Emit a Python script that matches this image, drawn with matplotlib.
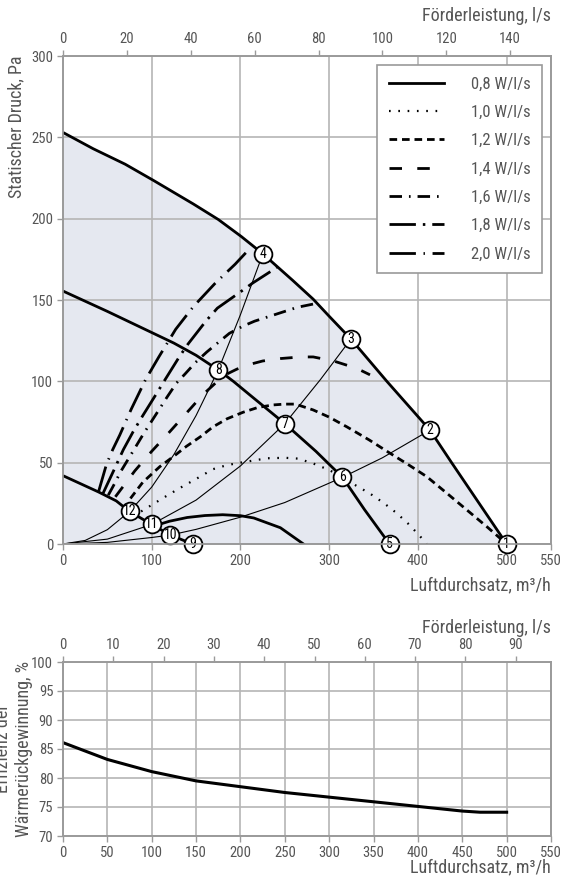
import numpy as np
import matplotlib.pyplot as plt

plt.rcParams['font.family'] = ['Roboto Condensed', 'DejaVu Sans Condensed',
                               'Liberation Sans Narrow', 'Roboto', 'DejaVu Sans']
plt.rcParams['lines.scale_dashes'] = False

# Ventilatorkennlinien (Luftdurchsatz m3/h, statischer Druck Pa)
fan_max_x = [0, 34, 70, 102, 147, 175, 201, 225, 259, 282, 300, 324.5, 365, 413.6, 438, 500]
fan_max_y = [253, 243, 233.5, 223.5, 209, 199.5, 189, 178.5, 162, 150.5, 140, 126, 100, 70, 50, 0]
fan_mid_x = [0, 50, 100, 125, 150, 175, 192, 212, 250, 285, 315, 340, 368]
fan_mid_y = [155.5, 143, 130, 123.5, 116, 107, 100, 91, 74, 57, 41, 21, 0]
fan_low_x = [0, 20, 40, 60, 75, 100, 121, 146]
fan_low_y = [42, 37, 32, 26.5, 20, 12, 5.5, 0]

# Anlagenkennlinien
sys_a_x = [0, 25, 50, 75, 100, 125, 150, 175, 200, 225]
sys_a_y = [0, 2.2, 8.8, 20, 35, 55, 79, 107, 141, 178]
sys_b_x = [0, 50, 100, 150, 200, 250, 290, 324.5]
sys_b_y = [0, 3, 12, 27, 48, 74, 101, 126]
sys_c_x = [0, 50, 100, 121, 150, 200, 250, 315, 360, 413.6]
sys_c_y = [0, 1, 4, 5.5, 9, 16.5, 25.5, 41, 53, 70]

# Linien gleicher spezifischer Leistung (SFP)
p08_x = [105, 120, 140, 160, 180, 200, 215, 230, 245, 258, 271]
p08_y = [11.5, 14, 16.3, 17.5, 18, 17.4, 16, 13, 10, 5, 0]
p10_x = [88, 100, 115, 132, 150, 169, 185, 200, 230, 250, 265, 282, 300, 315, 330, 346, 362, 376, 390, 402, 410]
p10_y = [20, 24, 29, 34.5, 40, 46, 48.5, 50, 52.7, 53, 52.5, 49.5, 45.5, 41, 36, 31, 25, 19, 12, 5, 0]
p12_x = [76, 90, 109, 125, 139, 155, 169, 185, 203, 220, 237, 250, 262, 282, 300, 320, 345, 368, 390, 410, 432, 455, 478, 500]
p12_y = [28, 38, 47.5, 54, 60, 66, 72, 77, 81, 84, 85.5, 86, 86, 82.4, 78, 72, 64, 56, 48.5, 41.4, 31.5, 21, 10.5, 0]
p14_x = [59, 70, 81, 100, 117, 140, 158, 168, 181, 196, 211, 225, 245, 268, 282, 305, 331, 346]
p14_y = [29, 37, 45, 57, 67, 81, 92, 97, 103.5, 107.5, 110.5, 112.5, 114, 115, 115, 112.5, 108, 104]
p16_x = [51, 58, 65, 80, 91, 104, 117.5, 128, 137.5, 149.5, 162, 173, 187.5, 203, 216, 233, 250, 264, 282]
p16_y = [30, 37, 44.5, 58, 68, 79, 90.5, 99, 104.5, 111.7, 118, 123, 129.5, 134, 137, 140, 143, 145.5, 147.5]
p18_x = [45, 57, 68, 79, 90, 106, 115, 131, 141, 161, 174, 200, 214, 241]
p18_y = [31, 45, 58, 69, 79, 93, 101, 115, 123, 137, 145, 155, 160.5, 170]
p20_x = [40, 49, 56, 64, 77, 85, 93, 108, 127, 147, 159, 171, 194, 206]
p20_y = [32, 49, 58, 67, 83, 92, 101, 115, 132, 146, 153, 160, 172, 179]

sfp_labels = ['0,8 W/l/s', '1,0 W/l/s', '1,2 W/l/s', '1,4 W/l/s', '1,6 W/l/s', '1,8 W/l/s', '2,0 W/l/s']

# Betriebspunkte
pt_x = [500, 413.6, 324.5, 225, 368, 315, 250, 175, 146, 121, 100, 75]
pt_y = [0, 70, 126, 178.5, 0, 41, 74, 107, 0, 5.5, 12, 20]
pt_labels = ['1', '2', '3', '4', '5', '6', '7', '8', '9', '10', '11', '12']

# Wirkungsgrad der Wärmerückgewinnung
eff_x = [0, 50, 100, 150, 200, 250, 300, 350, 400, 450, 470, 500]
eff_y = [86.1, 83.2, 81.1, 79.5, 78.5, 77.5, 76.7, 75.9, 75.1, 74.3, 74.1, 74.1]

txt = '#555555'
grid_c = '#b5b5b5'
spine_c = '#9a9a9a'
fill_c = '#e5e8f0'

W, H = 561, 881
fig = plt.figure(figsize=(W / 100, H / 100), dpi=100, facecolor='white')


def fx(px):
    return px / W


def fy(py):
    return 1 - py / H


def style_axes(ax):
    for s in ax.spines.values():
        s.set_color(spine_c)
        s.set_linewidth(1.2)
    ax.grid(True, color=grid_c, lw=1.2)
    ax.tick_params(direction='out', length=4, width=1, color=spine_c,
                   labelsize=10.5, labelcolor=txt, pad=3)


# ---------- Diagramm oben: Druck ----------
ax = fig.add_axes([fx(63), fy(544), fx(551 - 63), (544 - 56) / H])
ax.set_xlim(0, 550)
ax.set_ylim(0, 300)
ax.set_xticks([0, 100, 200, 300, 400, 500, 550])
ax.set_yticks([0, 50, 100, 150, 200, 250, 300])
style_axes(ax)

ax.fill_between(fan_max_x, fan_max_y, 0, color=fill_c, lw=0, zorder=1)

thin = dict(color='black', lw=0.8, zorder=2)
ax.plot(sys_a_x, sys_a_y, **thin)
ax.plot(sys_b_x, sys_b_y, **thin)
ax.plot(sys_c_x, sys_c_y, **thin)

thick = dict(color='black', lw=2.0, zorder=3, solid_capstyle='butt')
ax.plot(fan_max_x, fan_max_y, **thick)
ax.plot(fan_mid_x, fan_mid_y, **thick)
ax.plot(fan_low_x, fan_low_y, **thick)

styles = [
    '-',
    (0, (1.2, 5.5)),
    (0, (5.5, 3.5)),
    (0, (9, 11)),
    (0, (9, 5, 1.2, 5)),
    (0, (19, 5, 1.8, 5)),
    (0, (19, 5.5, 1, 5.5)),
]
sfp_x = [p08_x, p10_x, p12_x, p14_x, p16_x, p18_x, p20_x]
sfp_y = [p08_y, p10_y, p12_y, p14_y, p16_y, p18_y, p20_y]
for xs, ys, ls, lab in zip(sfp_x, sfp_y, styles, sfp_labels):
    lw = 1.6 if ls == styles[1] else 2.0
    ax.plot(xs, ys, color='black', lw=lw, linestyle=ls, label=lab, zorder=3)

ax.plot(pt_x, pt_y, 'o', ms=12.8, mfc='white', mec='black', mew=1.3,
        zorder=5, clip_on=False)
for x, y, lab in zip(pt_x, pt_y, pt_labels):
    ax.text(x, y, lab, ha='center', va='center', fontsize=10, color='black',
            zorder=6, clip_on=False)

leg = ax.legend(loc='upper right', bbox_to_anchor=(0.982, 0.982), borderaxespad=0,
                fontsize=12, frameon=True, fancybox=False, framealpha=1,
                edgecolor=spine_c, handlelength=3.3, handletextpad=1.6,
                labelspacing=0.8, borderpad=0.7)
leg.get_frame().set_linewidth(1.2)
for t in leg.get_texts():
    t.set_color(txt)

ax_top = ax.twiny()
ax_top.set_xlim(0, 550 / 3.6)
ax_top.set_xticks([0, 20, 40, 60, 80, 100, 120, 140])
style_axes(ax_top)
ax_top.grid(False)

fig.text(fx(551), fy(16), 'Förderleistung, l/s', ha='right', va='center',
         fontsize=13, color=txt)
fig.text(fx(551), fy(585), 'Luftdurchsatz, m³/h', ha='right', va='center',
         fontsize=13, color=txt)
fig.text(fx(16), fy(56), 'Statischer Druck, Pa', ha='center', va='top',
         rotation=90, fontsize=13, color=txt)

# ---------- Diagramm unten: Wirkungsgrad ----------
bx = fig.add_axes([fx(63), fy(836), fx(551 - 63), (836 - 662) / H])
bx.set_xlim(0, 550)
bx.set_ylim(70, 100)
bx.set_xticks(np.arange(0, 551, 50))
bx.set_yticks(np.arange(70, 101, 5))
style_axes(bx)
bx.plot(eff_x, eff_y, color='black', lw=2.2, zorder=3)

bx_top = bx.twiny()
bx_top.set_xlim(0, 97)
bx_top.set_xticks(np.arange(0, 91, 10))
style_axes(bx_top)
bx_top.grid(False)

fig.text(fx(551), fy(628), 'Förderleistung, l/s', ha='right', va='center',
         fontsize=13, color=txt)
fig.text(fx(551), fy(867), 'Luftdurchsatz, m³/h', ha='right', va='center',
         fontsize=13, color=txt)
fig.text(fx(3), fy(749), 'Effizienz der', ha='center', va='center',
         rotation=90, fontsize=13, color=txt)
fig.text(fx(24), fy(749), 'Wärmerückgewinnung, %', ha='center', va='center',
         rotation=90, fontsize=13, color=txt)

fig.savefig('out.png', dpi=100, facecolor='white')
